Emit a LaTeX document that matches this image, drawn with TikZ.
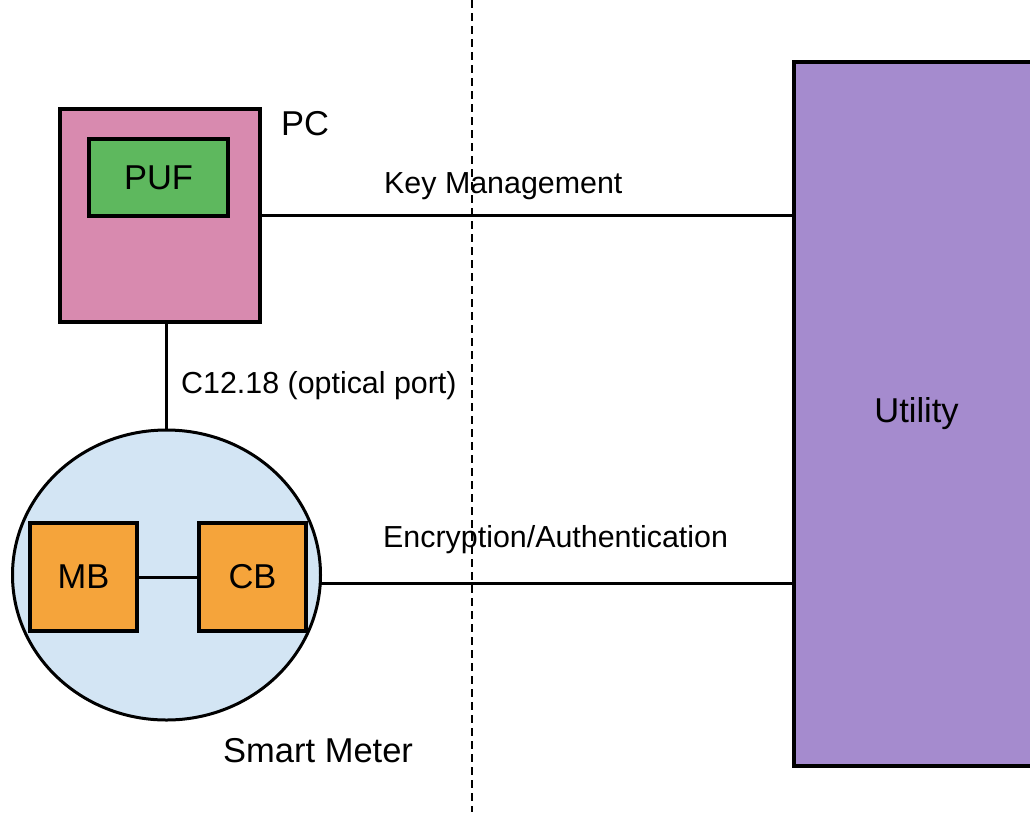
\documentclass[tikz,border=0pt]{standalone}
\usepackage{fontspec}
\setmainfont{Liberation Sans}
\usetikzlibrary{shapes.geometric}
\definecolor{pcpink}{HTML}{D88AAF}
\definecolor{pufgreen}{HTML}{5EB85E}
\definecolor{meterblue}{HTML}{D3E5F4}
\definecolor{boardorange}{HTML}{F5A43B}
\definecolor{utilpurple}{HTML}{A58BCE}
\tikzset{
  box/.style={draw=black, line width=3.4pt, inner sep=0pt},
  big/.style={font=\fontsize{34.5}{40}\selectfont},
  edgelabel/.style={inner sep=0pt, anchor=base west, font=\fontsize{30.4}{36}\selectfont},
  wire/.style={line width=3pt},
  divider/.style={line width=2.2pt, dash pattern=on 8pt off 5pt},
}
\begin{document}
\begin{tikzpicture}[x=1pt, y=-1pt]
\useasboundingbox (0,0) rectangle (1030,812);

% personal computer with its PUF
\node[box, fill=pcpink, minimum width=200pt, minimum height=213pt] (pc) at (160,215.5) {};
\node[box, fill=pufgreen, minimum width=139pt, minimum height=77pt, big] (puf) at (158.5,177.5) {PUF};
\node[inner sep=0pt, anchor=base west, big] (pclabel) at (281,135) {PC};

% smart meter with its boards
\node[draw=black, line width=3pt, fill=meterblue, ellipse, minimum width=308pt, minimum height=290pt, inner sep=0pt] (meter) at (166.5,575) {};
\node[box, fill=boardorange, minimum width=107pt, minimum height=108pt, big] (mb) at (83.5,577) {MB};
\node[box, fill=boardorange, minimum width=107pt, minimum height=108pt, big] (cb) at (252.5,577) {CB};
\node[inner sep=0pt, anchor=base west, big] (meterlabel) at (223,762) {Smart Meter};

% utility back end
\node[box, fill=utilpurple, minimum width=245pt, minimum height=704pt, big] (utility) at (916.5,414) {Utility};

% connections
\draw[wire] (pc.east) -- (pc.east -| utility.west);
\draw[wire] (pc.south -| meter.north) -- (meter.north);
\draw[wire] (mb.east) -- (cb.west);
\coordinate (meterR) at (320.3,583);
\draw[wire] (meterR) -- (meterR -| utility.west);

% connection labels
\node[edgelabel] (kmlabel) at (384,193) {Key Management};
\node[edgelabel] (optlabel) at (181,393) {C12.18 (optical port)};
\node[edgelabel] (enclabel) at (383,547) {Encryption/Authentication};

% trust boundary
\coordinate (divtop) at (472,0);
\coordinate (divbot) at (472,812);
\draw[divider] (divtop) -- (divbot);
\end{tikzpicture}
\end{document}
